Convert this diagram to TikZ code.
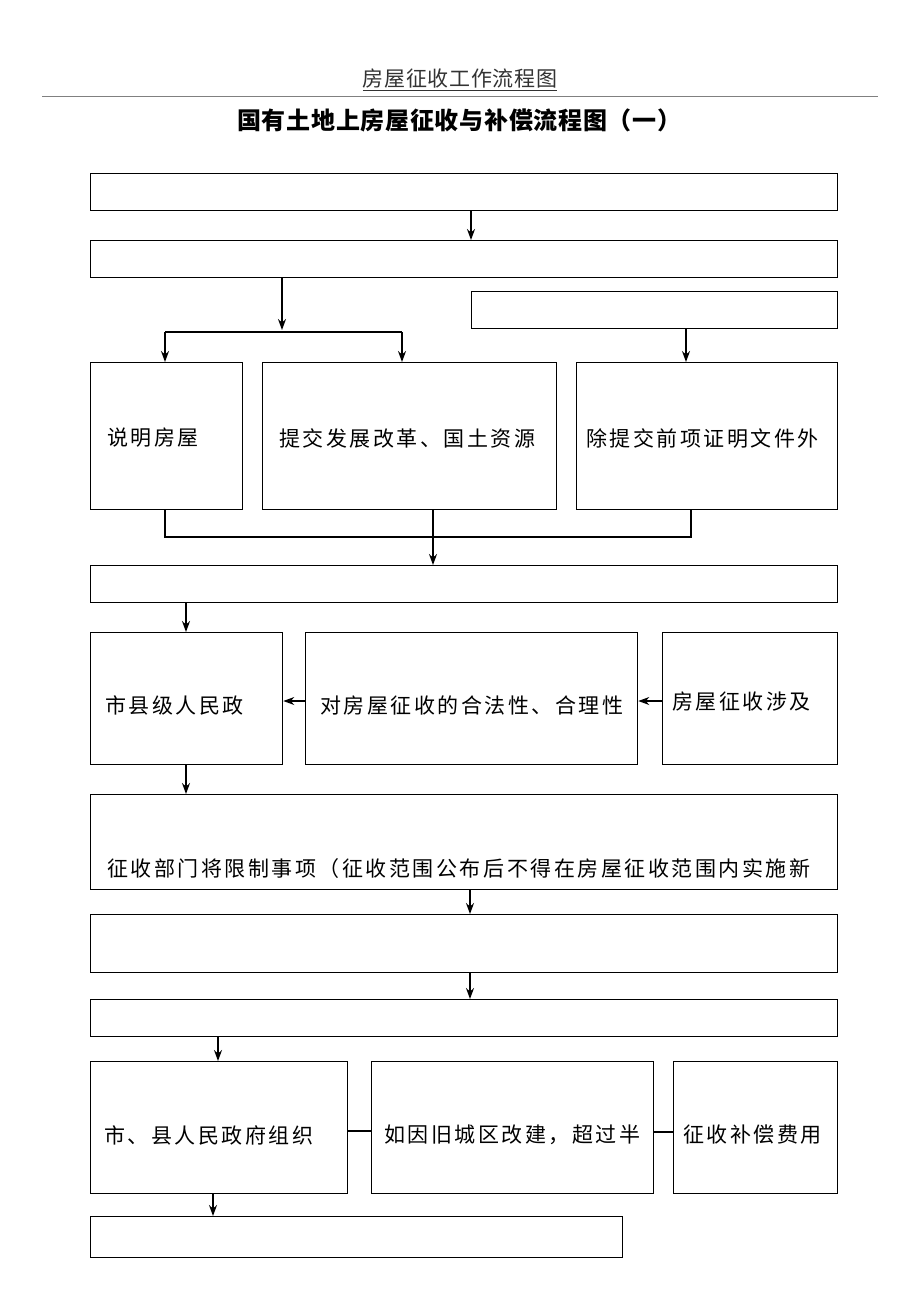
\documentclass[tikz,border=0pt]{standalone}
\usepackage{fontspec}
\setmainfont{Noto Sans CJK SC}
\newfontfamily\bodyfont[LetterSpace=12]{Noto Sans CJK SC}
\newfontfamily\hdrfont[LetterSpace=3]{Noto Sans CJK SC}
\newfontfamily\ttlfont[LetterSpace=3]{Noto Sans CJK SC}
\usetikzlibrary{arrows.meta}
\begin{document}
\begin{tikzpicture}[x=1pt,y=-1pt,
  box/.style={draw, line width=1.3pt, inner sep=0pt, anchor=north west},
  ln/.style={line width=1.3pt},
  arr/.style={line width=1.3pt, -{Stealth[length=11pt,width=8pt]}},
  txt/.style={anchor=west, inner sep=0pt, font=\bodyfont\fontsize{21}{24}\selectfont}]
\useasboundingbox[fill=white] (0,0) rectangle (920,1302);
% header
\node[inner sep=0pt, text=black!80, font=\hdrfont\fontsize{21}{24}\selectfont] (hdr) at (460,80) {\underline{房屋征收工作流程图}};
\draw[black!50, line width=0.8pt] (42,96) -- (878,96);
\node[inner sep=0pt, anchor=west, font=\ttlfont\fontsize{24}{27}\selectfont\bfseries] (ttl) at (237,120) {国有土地上房屋征收与补偿流程图（一）};
% boxes
\node[box, minimum width=747pt, minimum height=37pt] (b1) at (90,173) {};
\node[box, minimum width=747pt, minimum height=37pt] (b2) at (90,240) {};
\node[box, minimum width=366pt, minimum height=37pt] (b3) at (471,291) {};
\node[box, minimum width=152pt, minimum height=147pt] (c1) at (90,362) {};
\node[box, minimum width=294pt, minimum height=147pt] (c2) at (262,362) {};
\node[box, minimum width=261pt, minimum height=147pt] (c3) at (576,362) {};
\node[box, minimum width=747pt, minimum height=37pt] (b4) at (90,565) {};
\node[box, minimum width=192pt, minimum height=132pt] (d1) at (90,632) {};
\node[box, minimum width=332pt, minimum height=132pt] (d2) at (305,632) {};
\node[box, minimum width=175pt, minimum height=132pt] (d3) at (662,632) {};
\node[box, minimum width=747pt, minimum height=95pt] (b5) at (90,794) {};
\node[box, minimum width=747pt, minimum height=58pt] (b6) at (90,914) {};
\node[box, minimum width=747pt, minimum height=37pt] (b7) at (90,999) {};
\node[box, minimum width=257pt, minimum height=132pt] (e1) at (90,1061) {};
\node[box, minimum width=282pt, minimum height=132pt] (e2) at (371,1061) {};
\node[box, minimum width=164pt, minimum height=132pt] (e3) at (673,1061) {};
\node[box, minimum width=532pt, minimum height=41pt] (b8) at (90,1216) {};
% texts
\node[txt] (tc1) at (107,438) {说明房屋};
\node[txt] (tc2) at (279,438) {提交发展改革、国土资源};
\node[txt] (tc3) at (586,438) {除提交前项证明文件外};
\node[txt] (td1) at (105,705) {市县级人民政};
\node[txt] (td2) at (320,705) {对房屋征收的合法性、合理性};
\node[txt] (td3) at (672,702) {房屋征收涉及};
\node[txt] (tb5) at (107,869) {征收部门将限制事项（征收范围公布后不得在房屋征收范围内实施新};
\node[txt] (te1) at (104,1135) {市、县人民政府组织};
\node[txt] (te2) at (384,1135) {如因旧城区改建，超过半};
\node[txt] (te3) at (683,1135) {征收补偿费用};
% connectors
\draw[arr] (471,0 |- b1.south) -- (471,0 |- b2.north);
\coordinate (jL) at (165,332);
\coordinate (jR) at (402,332);
\draw[arr] (282,0 |- b2.south) -- (282,330);
\draw[ln] (jL) -- (jR);
\draw[arr] (jL) -- (165,0 |- c1.north);
\draw[arr] (jR) -- (402,0 |- c2.north);
\draw[arr] (686,0 |- b3.south) -- (686,0 |- c3.north);
\coordinate (mL) at (165,537);
\coordinate (mR) at (691,537);
\draw[ln] (165,0 |- c1.south) -- (mL) -- (mR) -- (691,0 |- c3.south);
\draw[arr] (433,0 |- c2.south) -- (433,0 |- b4.north);
\draw[arr] (186,0 |- b4.south) -- (186,0 |- d1.north);
\draw[arr] (d2.west |- 0,701) -- (d1.east |- 0,701);
\draw[arr] (d3.west |- 0,701) -- (d2.east |- 0,701);
\draw[arr] (186,0 |- d1.south) -- (186,0 |- b5.north);
\draw[arr] (470,0 |- b5.south) -- (470,0 |- b6.north);
\draw[arr] (470,0 |- b6.south) -- (470,0 |- b7.north);
\draw[arr] (218,0 |- b7.south) -- (218,0 |- e1.north);
\draw[ln] (e1.east |- 0,1131) -- (e2.west |- 0,1131);
\draw[ln] (e2.east |- 0,1132) -- (e3.west |- 0,1132);
\draw[arr] (213,0 |- e1.south) -- (213,0 |- b8.north);
\end{tikzpicture}
\end{document}
